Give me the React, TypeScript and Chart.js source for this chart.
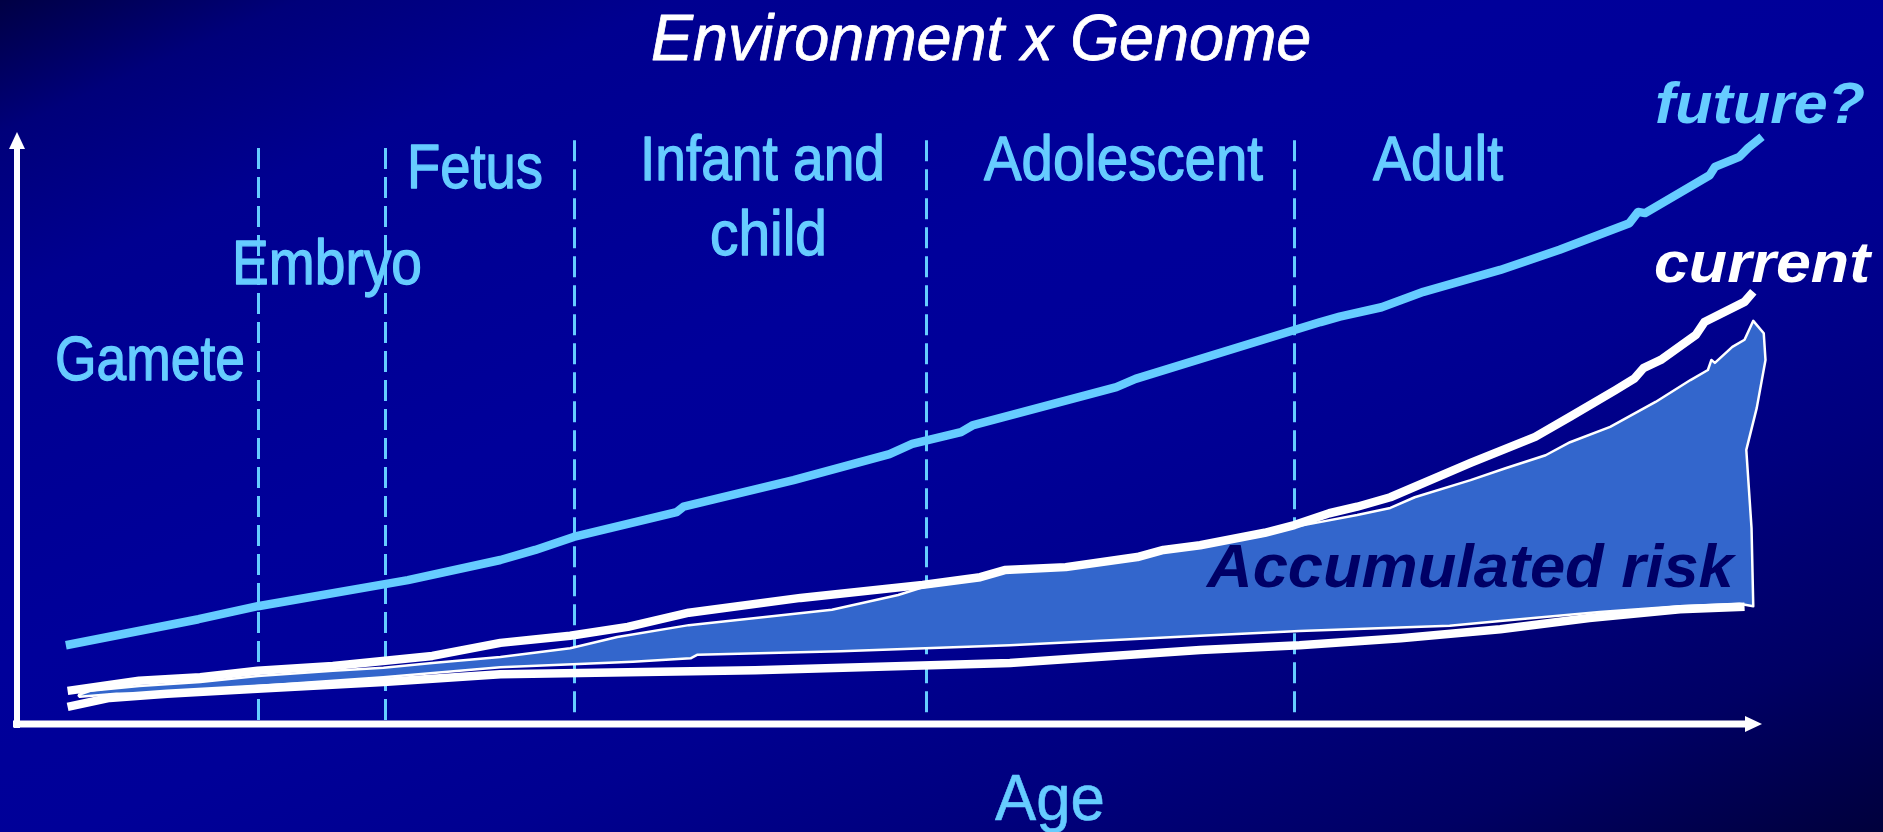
import React, { useEffect, useRef } from 'react';
import { Chart, registerables } from 'chart.js';

Chart.register(...registerables);

// Age axis: 0 = origin, 100 = arrow tip. Risk axis: 0 = x axis, 100 = arrow tip.
const futureAge = [2.8, 10.4, 13.8, 22.4, 27.7, 29.7, 31.9, 37.8, 38.2, 44.5, 50.0, 51.3, 54.1, 54.8, 63.0, 64.1, 74.7, 75.8, 78.2, 80.6, 85.0, 88.4, 92.4, 92.9, 93.3, 97.0, 97.3, 98.7, 99.2, 100];
const futureRisk = [13.3, 17.7, 19.9, 24.3, 27.7, 29.4, 31.6, 35.8, 36.7, 41.2, 45.6, 47.3, 49.3, 50.5, 56.9, 58.3, 67.9, 68.8, 70.4, 73.0, 76.7, 80.1, 84.6, 86.5, 86.3, 92.7, 94.1, 95.8, 97.3, 99.2];

const currentAge = [2.9, 7.0, 10.5, 13.8, 18.1, 23.8, 27.7, 31.7, 35.0, 38.5, 44.9, 51.9, 55.2, 56.6, 60.1, 64.2, 65.7, 67.8, 71.5, 73.2, 75.2, 76.8, 78.7, 83.3, 87.0, 89.0, 91.6, 92.7, 93.2, 94.2, 96.2, 96.7, 99.0, 99.5];
const currentRisk = [5.6, 7.3, 7.9, 9.0, 9.8, 11.5, 13.7, 14.9, 16.4, 18.8, 21.3, 23.5, 24.8, 26.0, 26.5, 28.2, 29.4, 30.2, 32.3, 33.6, 35.6, 36.7, 38.3, 44.1, 48.5, 51.9, 56.4, 58.4, 60.1, 61.5, 65.7, 67.9, 71.3, 73.0];

const lowerAge = [2.9, 5.3, 8.6, 13.5, 21.0, 27.7, 42.3, 56.9, 67.8, 73.5, 79.3, 85.0, 90.1, 95.3, 99.0];
const lowerRisk = [2.9, 4.4, 5.1, 5.9, 7.1, 8.4, 9.1, 10.3, 12.5, 13.3, 14.5, 16.0, 17.9, 19.4, 19.8];

// Accumulated-risk area: upper edge (left to right), right edge (top to bottom), lower edge (right to left)
const riskUpperAge = [3.5, 4.2, 7.0, 10.5, 13.8, 18.1, 21.0, 23.8, 27.7, 31.7, 34.4, 38.5, 46.7, 50.5, 51.9, 55.2, 56.6, 60.1, 64.2, 65.7, 67.8, 71.5, 73.2, 76.8, 78.7, 80.1, 83.3, 85.3, 87.6, 89.0, 91.3, 93.9, 95.9, 96.9, 97.1, 97.3, 98.3, 99.0, 99.5];
const riskUpperRisk = [4.9, 5.6, 6.4, 7.1, 8.1, 9.0, 9.5, 10.3, 11.3, 12.8, 14.7, 16.7, 19.3, 21.8, 23.1, 24.5, 25.7, 26.2, 27.9, 29.1, 29.9, 31.9, 33.3, 35.3, 36.5, 38.3, 41.2, 43.2, 45.4, 47.6, 50.2, 54.4, 58.1, 59.8, 61.5, 61.0, 63.7, 64.9, 68.1];
const riskRightAge = [100.1, 100.2, 99.7, 99.1, 99.4, 99.5];
const riskRightRisk = [66.0, 61.5, 53.4, 46.3, 33.1, 19.9];
const riskLowerAge = [98.7, 95.3, 90.7, 85.0, 82.1, 73.5, 67.8, 56.9, 47.2, 39.0, 38.6, 35.3, 27.7, 21.0, 13.8, 8.4, 5.7, 3.6];
const riskLowerRisk = [20.3, 19.9, 18.9, 17.4, 16.6, 15.7, 14.9, 13.3, 12.3, 11.7, 11.1, 10.5, 9.6, 7.9, 6.4, 5.1, 5.1, 4.6];

// Life stage boundaries (age) and the extent of each dashed line (risk)
const stageBoundaryAge = [13.8, 21.1, 31.9, 52.1, 73.2];
const stageLineTopRisk = [97.3, 97.3, 98.6, 98.6, 98.6];
const stageLineBottomRisk = [0, 0, 1.35, 1.35, 1.35];

const stageNames = ['Gamete', 'Embryo', 'Fetus', 'Infant and', 'child', 'Adolescent', 'Adult'];
const titleText = 'Environment x Genome';
const axisTitle = 'Age';
const seriesNames = ['future?', 'current', 'Accumulated risk'];

// ---------- styling / layout ----------
const LIGHT = '#66ccff';
const WHITE = '#ffffff';
const FILL = '#3366cc';
const NAVY = '#000066';
const SANS = "'Liberation Sans', Arial, Helvetica, sans-serif";
const NARROW = "'Liberation Sans Narrow', 'Arial Narrow', 'Liberation Sans', Arial, sans-serif";

type Box = { text: string; left: number; right: number; base: number; size: number; style: string; color: string; family: string; stroke: number };

const textBoxes: Box[] = [
  { text: titleText, left: 651, right: 1319, base: 60, size: 64, style: 'italic', color: WHITE, family: SANS, stroke: 0.8 },
  { text: stageNames[0], left: 55, right: 245, base: 380, size: 63, style: 'normal', color: LIGHT, family: NARROW, stroke: 1.3 },
  { text: stageNames[1], left: 232, right: 422, base: 284, size: 63, style: 'normal', color: LIGHT, family: NARROW, stroke: 1.3 },
  { text: stageNames[2], left: 407, right: 543, base: 188, size: 63, style: 'normal', color: LIGHT, family: NARROW, stroke: 1.3 },
  { text: stageNames[3], left: 640, right: 885, base: 180, size: 63, style: 'normal', color: LIGHT, family: NARROW, stroke: 1.3 },
  { text: stageNames[4], left: 710, right: 827, base: 255, size: 63, style: 'normal', color: LIGHT, family: NARROW, stroke: 1.3 },
  { text: stageNames[5], left: 984, right: 1263, base: 180, size: 63, style: 'normal', color: LIGHT, family: NARROW, stroke: 1.3 },
  { text: stageNames[6], left: 1373, right: 1503, base: 180, size: 63, style: 'normal', color: LIGHT, family: NARROW, stroke: 1.3 },
  { text: axisTitle, left: 995, right: 1105, base: 820, size: 64, style: 'normal', color: LIGHT, family: SANS, stroke: 0.6 },
  { text: seriesNames[0], left: 1655, right: 1872, base: 123, size: 58, style: 'italic bold', color: LIGHT, family: SANS, stroke: 0 },
  { text: seriesNames[1], left: 1654, right: 1877, base: 282, size: 58, style: 'italic bold', color: WHITE, family: SANS, stroke: 0 },
  { text: seriesNames[2], left: 1207, right: 1741, base: 587, size: 61, style: 'italic bold', color: NAVY, family: SANS, stroke: 0 },
];

const pts = (xs: number[], ys: number[]) => xs.map((x, i) => ({ x, y: ys[i] }));

const riskOutline = [
  ...pts(riskUpperAge, riskUpperRisk),
  ...pts(riskRightAge, riskRightRisk),
  ...pts(riskLowerAge, riskLowerRisk),
  { x: riskUpperAge[0], y: riskUpperRisk[0] },
];

const decorPlugin = {
  id: 'decor',
  beforeDatasetsDraw(chart: any) {
    const { ctx, scales } = chart;
    const x = scales.x, y = scales.y;
    ctx.save();
    ctx.strokeStyle = LIGHT;
    ctx.lineWidth = 3;
    ctx.setLineDash([21, 8]);
    stageBoundaryAge.forEach((a, i) => {
      const px = Math.round(x.getPixelForValue(a)) + 0.5;
      ctx.beginPath();
      ctx.moveTo(px, y.getPixelForValue(stageLineTopRisk[i]));
      ctx.lineTo(px, y.getPixelForValue(stageLineBottomRisk[i]));
      ctx.stroke();
    });
    ctx.restore();
  },
  beforeDatasetDraw(chart: any, args: any) {
    if (args.index !== 0) return;
    const ctx = chart.ctx;
    const el = args.meta.dataset;
    ctx.save();
    ctx.beginPath();
    el.path(ctx);
    ctx.closePath();
    ctx.fillStyle = FILL;
    ctx.fill();
    ctx.restore();
  },
  afterDatasetsDraw(chart: any) {
    const { ctx, scales } = chart;
    const x = scales.x, y = scales.y;
    const ox = x.getPixelForValue(0), oy = y.getPixelForValue(0);
    const tx = x.getPixelForValue(100), ty = y.getPixelForValue(100);
    ctx.save();
    ctx.fillStyle = WHITE;
    // y axis
    ctx.fillRect(ox - 3, ty + 14, 6, oy + 4 - (ty + 14));
    ctx.beginPath();
    ctx.moveTo(ox, ty);
    ctx.lineTo(ox - 8, ty + 17);
    ctx.lineTo(ox + 8, ty + 17);
    ctx.closePath();
    ctx.fill();
    // x axis
    ctx.fillRect(ox - 4, oy - 3.5, tx - 15 - (ox - 4), 7);
    ctx.beginPath();
    ctx.moveTo(tx, oy);
    ctx.lineTo(tx - 17, oy - 8);
    ctx.lineTo(tx - 17, oy + 8);
    ctx.closePath();
    ctx.fill();
    ctx.restore();
  },
  afterDraw(chart: any) {
    const ctx = chart.ctx;
    textBoxes.forEach((b) => {
      ctx.save();
      ctx.font = `${b.style} ${b.size}px ${b.family}`;
      ctx.textAlign = 'left';
      ctx.textBaseline = 'alphabetic';
      const w = ctx.measureText(b.text).width;
      const slant = b.style.indexOf('italic') >= 0 ? 0.12 * b.size : 0;
      const sx = (b.right - b.left - slant) / w;
      ctx.translate(b.left, b.base);
      ctx.scale(sx, 1);
      ctx.fillStyle = b.color;
      ctx.fillText(b.text, 0, 0);
      if (b.stroke > 0) {
        ctx.strokeStyle = b.color;
        ctx.lineWidth = b.stroke;
        ctx.lineJoin = 'round';
        ctx.strokeText(b.text, 0, 0);
      }
      ctx.restore();
    });
  },
};

export default function App() {
  const ref = useRef<HTMLCanvasElement>(null);
  useEffect(() => {
    const canvas = ref.current;
    if (!canvas) return;
    const common = { pointRadius: 0, tension: 0, fill: false, clip: false as any, borderJoinStyle: 'round' as const, borderCapStyle: 'butt' as const };
    const chart = new Chart(canvas, {
      type: 'line',
      data: {
        datasets: [
          { ...common, label: seriesNames[2], data: riskOutline, borderColor: WHITE, borderWidth: 2.5, order: 4 },
          { ...common, label: 'baseline', data: pts(lowerAge, lowerRisk), borderColor: WHITE, borderWidth: 8.5, order: 3 },
          { ...common, label: seriesNames[1], data: pts(currentAge, currentRisk), borderColor: WHITE, borderWidth: 8.5, order: 2 },
          { ...common, label: seriesNames[0], data: pts(futureAge, futureRisk), borderColor: LIGHT, borderWidth: 8.5, order: 1 },
        ],
      },
      options: {
        animation: false,
        responsive: false,
        maintainAspectRatio: false,
        events: [],
        layout: { padding: { left: 17, right: 121, top: 132, bottom: 108 } },
        scales: {
          x: { type: 'linear', min: 0, max: 100, display: false },
          y: { type: 'linear', min: 0, max: 100, display: false },
        },
        plugins: { legend: { display: false }, tooltip: { enabled: false }, title: { display: false } },
      },
      plugins: [decorPlugin],
    });
    return () => chart.destroy();
  }, []);

  return (
    <div
      style={{
        position: 'absolute',
        left: 0,
        top: 0,
        width: 1883,
        height: 832,
        overflow: 'hidden',
        background:
          'linear-gradient(to bottom right, #000044 0%, #00007a 8%, #000090 18%, #00009a 40%, #000098 52%, #000090 63%, #00007e 75%, #000064 88%, #00003c 100%)',
      }}
    >
      <canvas ref={ref} width={1883} height={832} style={{ display: 'block', width: 1883, height: 832 }} />
    </div>
  );
}
